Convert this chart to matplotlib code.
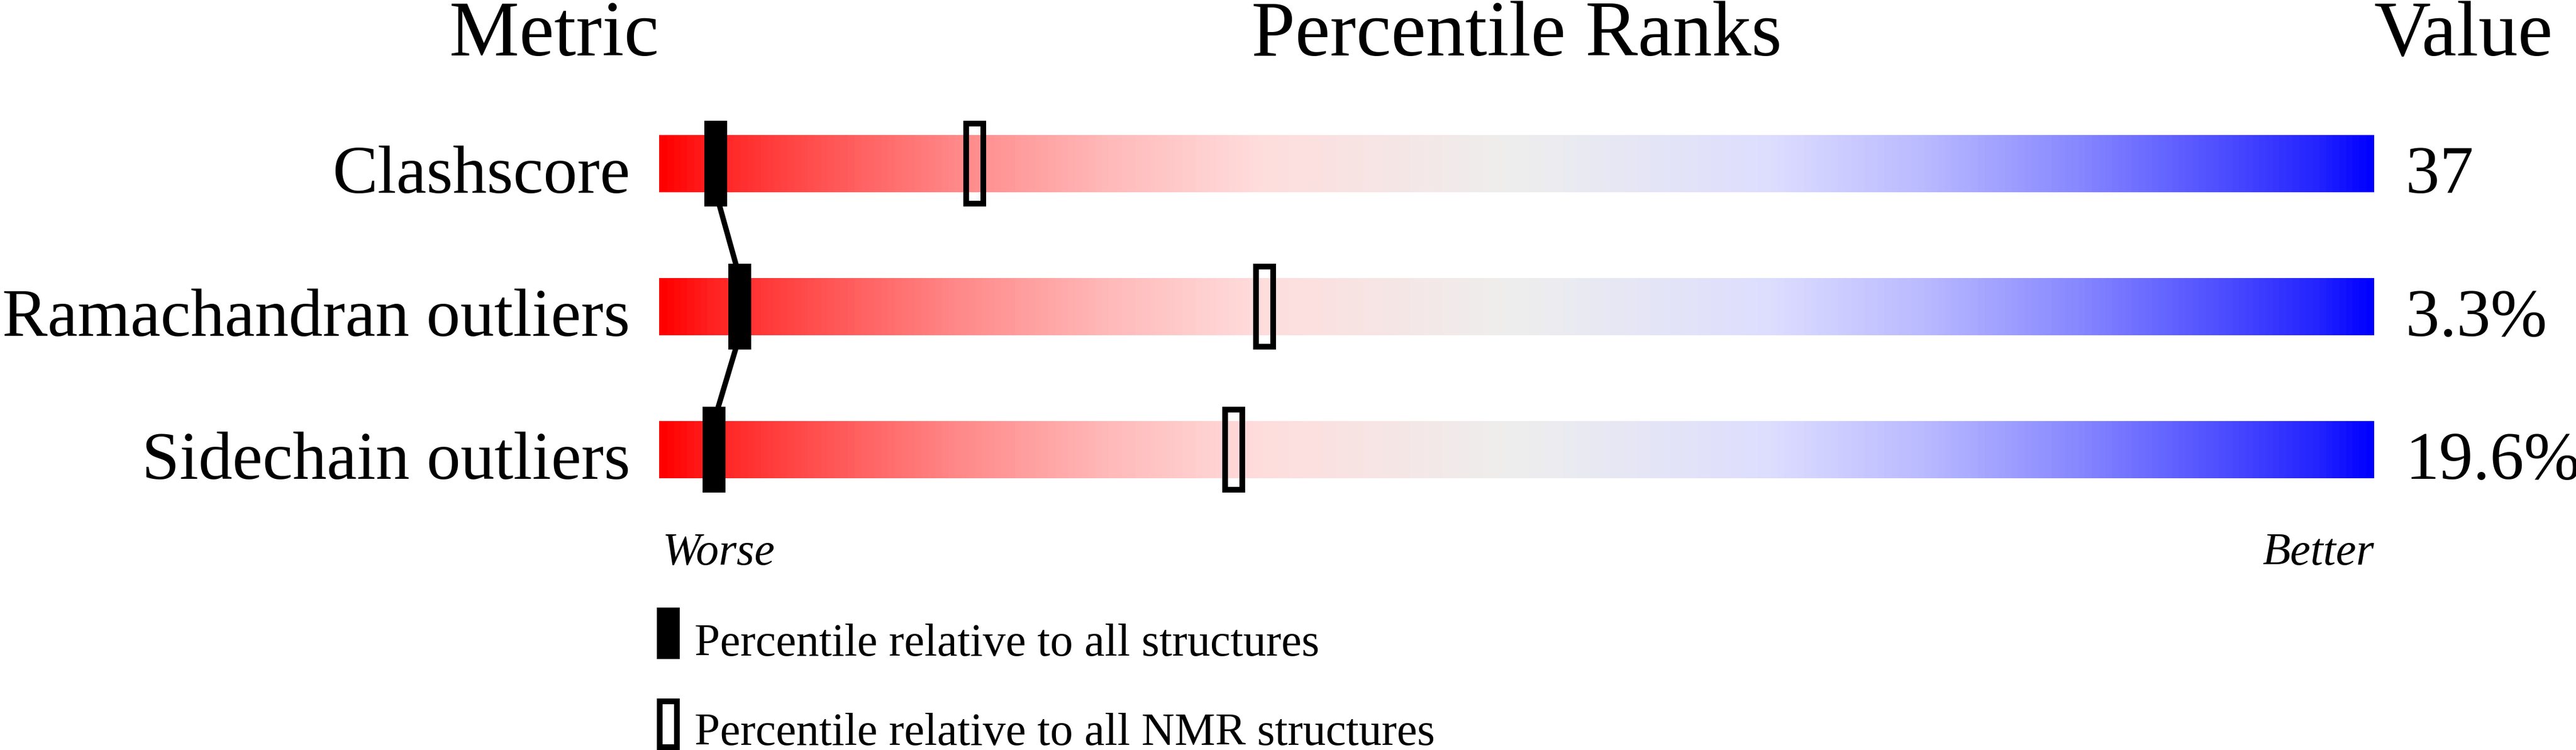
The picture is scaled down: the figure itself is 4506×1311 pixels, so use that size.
import numpy as np
import matplotlib
matplotlib.use("Agg")
import matplotlib.pyplot as plt
from matplotlib.colors import LinearSegmentedColormap
from matplotlib.patches import Rectangle

metrics = ["Clashscore", "Ramachandran outliers", "Sidechain outliers"]
values = ["37", "3.3%", "19.6%"]
pct_all = [3.3, 4.7, 3.2]      # percentile relative to all structures
pct_nmr = [18.4, 35.3, 33.5]   # percentile relative to all NMR structures
legend_labels = ["Percentile relative to all structures",
                 "Percentile relative to all NMR structures"]

plt.rcParams["font.family"] = ["Liberation Serif", "DejaVu Serif"]

# red -> pink -> grey -> lavender -> blue slider
ramp = [0, 35, 80, 135, 185, 221]
ramp_pos = [0.0, 0.03, 0.09, 0.17, 0.26, 0.35]
stops = [(p, (1, v / 255, v / 255)) for p, v in zip(ramp_pos, ramp)]
stops.append((0.5, (238 / 255,) * 3))
stops += [(1 - p, (v / 255, v / 255, 1)) for p, v in zip(ramp_pos[::-1], ramp[::-1])]
slider = LinearSegmentedColormap.from_list("slider", stops)

W, H = 4506, 1311
fig = plt.figure(figsize=(W / 100, H / 100), dpi=100)
ax = fig.add_axes([1153 / W, 0, 3000 / W, 1])
ax.axis("off")

grad = np.linspace(0, 1, 600)[None, :]
bar_h = 0.4
mk_h = 0.6
mk_w = 1.333
for i, name in enumerate(metrics):
    ax.imshow(grad, cmap=slider, aspect="auto", interpolation="bilinear",
              extent=(0, 100, i + bar_h / 2, i - bar_h / 2), zorder=1)
    ax.add_patch(Rectangle((pct_all[i] - mk_w / 2, i - mk_h / 2), mk_w, mk_h,
                           facecolor="black", edgecolor="none", zorder=4))
    ax.add_patch(Rectangle((pct_nmr[i] - 0.5, i - 0.28), 1.0, 0.56,
                           facecolor="none", edgecolor="black", lw=7.2, zorder=4))
    ax.text(-1.7, i + 0.204, name, ha="right", va="baseline", fontsize=85.5)
    ax.text(101.83, i + 0.204, values[i], ha="left", va="baseline", fontsize=85.5)

for i in range(len(metrics) - 1):
    ax.plot([pct_all[i], pct_all[i + 1]], [i + bar_h / 2, i + 1 - bar_h / 2],
            color="black", lw=6.8, solid_capstyle="butt", zorder=3)

ax.set_xlim(0, 100)
ax.set_ylim(4.1, -1.144)

ax.text(0, -0.756, "Metric", ha="right", va="baseline", fontsize=99)
ax.text(50, -0.756, "Percentile Ranks", ha="center", va="baseline", fontsize=99)
ax.text(100, -0.756, "Value", ha="left", va="baseline", fontsize=99)

ax.text(0.2, 2.804, "Worse", ha="left", va="baseline", fontsize=57.6, style="italic")
ax.text(100, 2.804, "Better", ha="right", va="baseline", fontsize=57.6, style="italic")

# legend
ax.add_patch(Rectangle((0.52 - mk_w / 2, 3.282 - 0.18), mk_w, 0.36,
                       facecolor="black", edgecolor="none", clip_on=False))
ax.add_patch(Rectangle((0.02, 3.92 - 0.16), 1.0, 0.32,
                       facecolor="none", edgecolor="black", lw=7.2, clip_on=False))
ax.text(2.07, 3.44, legend_labels[0], ha="left", va="baseline", fontsize=57.6)
ax.text(2.07, 4.065, legend_labels[1], ha="left", va="baseline", fontsize=57.6)

fig.savefig("out.png", dpi=100)
